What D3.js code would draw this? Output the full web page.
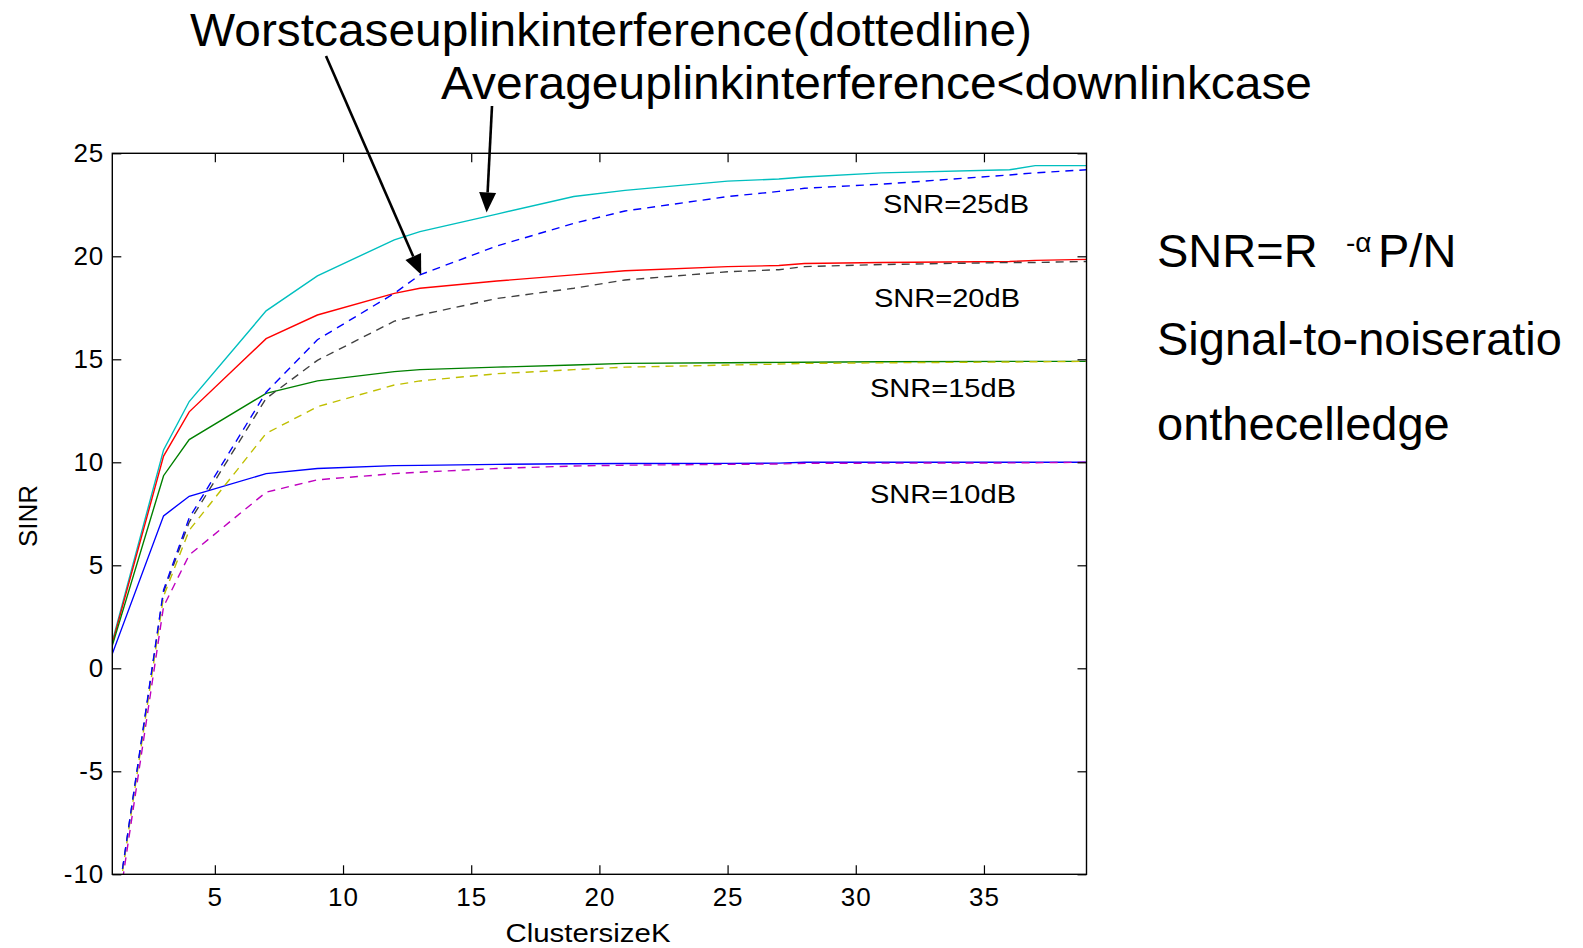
<!DOCTYPE html>
<html>
<head>
<meta charset="utf-8">
<script src="https://cdn.jsdelivr.net/npm/d3@7.9.0/dist/d3.min.js"></script>
<style>
  body { margin: 0; background: #fff; }
  svg { display: block; font-family: "Liberation Sans", Arial, sans-serif; }
</style>
</head>
<body>
<svg id="chart" width="1583" height="948"></svg>
<script>
// cluster sizes K (hexagonal reuse patterns)
const clusterSizes = [1, 3, 4, 7, 9, 12, 13, 16, 19, 21, 25, 27, 28, 31, 36, 37, 39];

// average uplink / downlink SINR (solid)
const avg25 = [1.3, 10.6, 12.95, 17.35, 19.05, 20.8, 21.2, 22.05, 22.9, 23.2, 23.65, 23.75, 23.85, 24.05, 24.2, 24.4, 24.4];
const avg20 = [1.2, 10.3, 12.45, 16.0, 17.15, 18.2, 18.45, 18.8, 19.1, 19.3, 19.5, 19.55, 19.65, 19.7, 19.75, 19.8, 19.85];
const avg15 = [1.1, 9.35, 11.1, 13.35, 13.95, 14.4, 14.5, 14.62, 14.72, 14.8, 14.83, 14.85, 14.86, 14.88, 14.9, 14.9, 14.9];
const avg10 = [0.7, 7.4, 8.35, 9.45, 9.7, 9.84, 9.85, 9.9, 9.93, 9.94, 9.95, 9.96, 10.0, 10.0, 10.0, 10.0, 10.0];

// worst case uplink SINR (dashed)
const worst25 = [-13.1, 3.8, 7.3, 13.4, 15.95, 18.2, 19.1, 20.5, 21.6, 22.2, 22.9, 23.15, 23.3, 23.5, 23.95, 24.05, 24.2];
const worst20 = [-13.1, 3.7, 7.1, 13.1, 14.95, 16.85, 17.15, 17.95, 18.45, 18.85, 19.25, 19.35, 19.5, 19.6, 19.7, 19.7, 19.75];
const worst15 = [-13.2, 3.5, 6.7, 11.4, 12.7, 13.75, 13.95, 14.3, 14.5, 14.62, 14.72, 14.77, 14.8, 14.83, 14.87, 14.88, 14.9];
const worst10 = [-13.6, 3.0, 5.5, 8.55, 9.15, 9.45, 9.52, 9.7, 9.82, 9.86, 9.9, 9.92, 9.95, 9.96, 9.97, 9.98, 10.0];

const xTicks = [5, 10, 15, 20, 25, 30, 35];
const yTicks = [-10, -5, 0, 5, 10, 15, 20, 25];

const snrLabels = ["SNR=25dB", "SNR=20dB", "SNR=15dB", "SNR=10dB"];

const series = [
  { values: avg25, color: "#00bfbf", dash: null },
  { values: avg20, color: "#ff0000", dash: null },
  { values: avg15, color: "#008000", dash: null },
  { values: avg10, color: "#0000ff", dash: null },
  { values: worst20, color: "#404040", dash: "8,6" },
  { values: worst15, color: "#bfbf00", dash: "8,6" },
  { values: worst10, color: "#bf00bf", dash: "8,6" },
  { values: worst25, color: "#0000ff", dash: "8,6" }
];

const svg = d3.select("#chart");
const plotL = 112.3, plotR = 1086.5, plotT = 153.3, plotB = 874.3;

const x = d3.scaleLinear().domain([1, 39]).range([plotL, plotR]);
const y = d3.scaleLinear().domain([-10, 25]).range([plotB, plotT]);

svg.append("defs").append("clipPath").attr("id", "plotClip")
  .append("rect")
  .attr("x", plotL).attr("y", plotT)
  .attr("width", plotR - plotL).attr("height", plotB - plotT);

// lines
const line = d3.line()
  .x((d, i) => x(clusterSizes[i]))
  .y(d => y(d));

const plot = svg.append("g").attr("clip-path", "url(#plotClip)");
series.forEach(s => {
  plot.append("path")
    .attr("d", line(s.values))
    .attr("fill", "none")
    .attr("stroke", s.color)
    .attr("stroke-width", 1.4)
    .attr("stroke-dasharray", s.dash);
});

// axes: inside ticks on all four sides, MATLAB style
const tickLen = 9;
const plain = d => String(d); // hyphen minus, like the original
const axisStyle = g => {
  g.select(".domain").remove();
  g.selectAll(".tick line").attr("stroke", "#000").attr("stroke-width", 1.2);
  g.selectAll(".tick text")
    .attr("fill", "#000")
    .attr("font-size", 26)
    .attr("letter-spacing", 1)
    .attr("font-family", "Liberation Sans, Arial, sans-serif");
};

svg.append("g")
  .attr("transform", `translate(0,${plotB})`)
  .call(d3.axisBottom(x).tickValues(xTicks).tickFormat(plain).tickSizeInner(-tickLen).tickSizeOuter(0).tickPadding(13))
  .call(axisStyle);

svg.append("g")
  .attr("transform", `translate(0,${plotT})`)
  .call(d3.axisTop(x).tickValues(xTicks).tickSizeInner(-tickLen).tickSizeOuter(0).tickFormat(""))
  .call(axisStyle);

svg.append("g")
  .attr("transform", `translate(${plotL},0)`)
  .call(d3.axisLeft(y).tickValues(yTicks).tickFormat(plain).tickSizeInner(-tickLen).tickSizeOuter(0).tickPadding(8))
  .call(axisStyle);

svg.append("g")
  .attr("transform", `translate(${plotR},0)`)
  .call(d3.axisRight(y).tickValues(yTicks).tickSizeInner(-tickLen).tickSizeOuter(0).tickFormat(""))
  .call(axisStyle);

svg.append("rect")
  .attr("x", plotL).attr("y", plotT)
  .attr("width", plotR - plotL).attr("height", plotB - plotT)
  .attr("fill", "none").attr("stroke", "#000").attr("stroke-width", 1.4);

// axis titles
svg.append("text")
  .attr("x", 588).attr("y", 942)
  .attr("text-anchor", "middle")
  .attr("font-size", 26)
  .attr("textLength", 165).attr("lengthAdjust", "spacingAndGlyphs")
  .text("ClustersizeK");

svg.append("text")
  .attr("transform", "translate(37,516) rotate(-90)")
  .attr("text-anchor", "middle")
  .attr("font-size", 26)
  .text("SINR");

// SNR level labels inside the plot
const labelX = [883, 874, 870, 870];
const labelBase = [213, 306.5, 397, 503];
snrLabels.forEach((t, i) => {
  svg.append("text")
    .attr("x", labelX[i]).attr("y", labelBase[i])
    .attr("font-size", 26)
    .attr("textLength", 146).attr("lengthAdjust", "spacingAndGlyphs")
    .text(t);
});

// titles and arrows
svg.append("text")
  .attr("x", 190).attr("y", 46)
  .attr("font-size", 47)
  .attr("textLength", 842).attr("lengthAdjust", "spacingAndGlyphs")
  .text("Worstcaseuplinkinterference(dottedline)");

svg.append("text")
  .attr("x", 441).attr("y", 99)
  .attr("font-size", 47)
  .attr("textLength", 871).attr("lengthAdjust", "spacingAndGlyphs")
  .text("Averageuplinkinterference<downlinkcase");

function arrow(x0, y0, x1, y1) {
  const ang = Math.atan2(y1 - y0, x1 - x0);
  const headLen = 20, headW = 8.5;
  const bx = x1 - headLen * Math.cos(ang), by = y1 - headLen * Math.sin(ang);
  svg.append("line")
    .attr("x1", x0).attr("y1", y0).attr("x2", bx).attr("y2", by)
    .attr("stroke", "#000").attr("stroke-width", 2.6);
  const px = -Math.sin(ang) * headW, py = Math.cos(ang) * headW;
  svg.append("path")
    .attr("d", `M${x1},${y1}L${bx + px},${by + py}L${bx - px},${by - py}Z`)
    .attr("fill", "#000");
}
// arrow tips point at curves: worst case 25 dB near K=13, average 25 dB near K=15.6
arrow(326, 56, x(13.05), y(19.1));
arrow(492, 106, x(15.6), y(22.13));

// formula text on the right
const side = svg.append("g").attr("font-size", 47);
const f = side.append("text").attr("x", 1157).attr("y", 267);
f.append("tspan").text("SNR=R");
f.append("tspan").attr("x", 1346).attr("y", 252).attr("font-size", 28).text("-\u03B1");
f.append("tspan").attr("x", 1378).attr("y", 267).text("P/N");

side.append("text").attr("x", 1157).attr("y", 355).text("Signal-to-noiseratio");
side.append("text").attr("x", 1157).attr("y", 440).text("onthecelledge");
</script>
</body>
</html>
